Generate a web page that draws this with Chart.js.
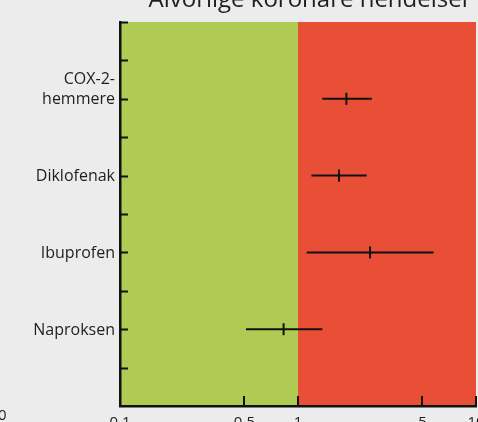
<!DOCTYPE html>
<html>
<head>
<meta charset="utf-8">
<script src="https://cdn.jsdelivr.net/npm/chart.js@4.4.1/dist/chart.umd.min.js"></script>
<style>
  html, body { margin: 0; padding: 0; background: #ececec; overflow: hidden; }
  #wrap { position: relative; width: 484px; height: 422px; }
</style>
</head>
<body>
<div id="wrap"><canvas id="chart"></canvas></div>
<script>
// Data
const titleText = 'Alvorlige koronare hendelser';
const categories = [['COX-2-', 'hemmere'], 'Diklofenak', 'Ibuprofen', 'Naproksen'];
const estimates = [1.87, 1.70, 2.54, 0.83];
const lowerCI = [1.37, 1.19, 1.12, 0.51];
const upperCI = [2.60, 2.43, 5.78, 1.37];
const xTicks = [0.1, 0.5, 1, 5, 10];
const threshold = 1;

const FONT = '"Open Sans", "DejaVu Sans", sans-serif';
const INK = '#111';

// CI lines, one dataset per row
const ciSets = categories.map((c, i) => ({
  type: 'line',
  data: [{ x: lowerCI[i], y: i + 1 }, { x: upperCI[i], y: i + 1 }],
  borderColor: INK,
  borderWidth: 2,
  pointRadius: 0
}));

const pointSet = {
  type: 'scatter',
  data: estimates.map((v, i) => ({ x: v, y: i + 1 })),
  pointStyle: 'line',
  rotation: 90,
  radius: 6,
  borderColor: INK,
  borderWidth: 2
};

// green / red zones behind everything
const zones = {
  id: 'zones',
  beforeDraw(chart) {
    const { ctx, chartArea: a, scales: { x } } = chart;
    const mid = x.getPixelForValue(threshold);
    ctx.save();
    ctx.fillStyle = '#b0cb53';
    ctx.fillRect(a.left, a.top, mid - a.left, a.bottom - a.top);
    ctx.fillStyle = '#e94f36';
    ctx.fillRect(mid, a.top, a.right - mid, a.bottom - a.top);
    ctx.restore();
  }
};

// inward tick marks, row labels and title
const decor = {
  id: 'decor',
  afterDraw(chart) {
    const { ctx, chartArea: a, scales: { x, y } } = chart;
    ctx.save();
    ctx.strokeStyle = INK;
    ctx.lineWidth = 2;
    for (let v = 0; v < 5; v += 0.5) {
      const py = Math.round(y.getPixelForValue(v)) + 0.5;
      ctx.beginPath();
      ctx.moveTo(a.left, py);
      ctx.lineTo(a.left + 8, py);
      ctx.stroke();
    }
    xTicks.forEach(v => {
      const px = Math.round(x.getPixelForValue(v));
      ctx.beginPath();
      ctx.moveTo(px, a.bottom);
      ctx.lineTo(px, a.bottom - 10);
      ctx.stroke();
    });

    ctx.fillStyle = '#1e1e1e';
    ctx.font = '16px ' + FONT;
    ctx.textAlign = 'right';
    ctx.textBaseline = 'middle';
    categories.forEach((c, i) => {
      const lines = Array.isArray(c) ? c : [c];
      const py = y.getPixelForValue(i + 1);
      lines.forEach((t, k) => {
        ctx.fillText(t, a.left - 5, py - (lines.length - 1 - k) * 20 + 1);
      });
    });

    ctx.font = '24px ' + FONT;
    ctx.textAlign = 'center';
    ctx.textBaseline = 'alphabetic';
    ctx.fillText(titleText, 310, 7);

    // fragment of the neighbouring chart at the left edge
    ctx.font = '15px ' + FONT;
    ctx.textAlign = 'left';
    ctx.fillText('0', -2, 420);
    ctx.restore();
  }
};

new Chart(document.getElementById('chart'), {
  data: { datasets: [...ciSets, pointSet] },
  options: {
    responsive: true,
    maintainAspectRatio: false,
    animation: false,
    layout: { padding: { top: 22, right: 2, left: 0, bottom: 0 } },
    plugins: { legend: { display: false }, tooltip: { enabled: false } },
    scales: {
      x: {
        type: 'logarithmic',
        min: 0.1,
        max: 10,
        afterBuildTicks(scale) { scale.ticks = xTicks.map(v => ({ value: v })); },
        afterFit(scale) {
          scale.height = 16;
          scale.paddingLeft = 0;
          scale.paddingRight = 0;
        },
        grid: { display: false, drawTicks: false },
        border: { display: true, color: INK, width: 2.5 },
        ticks: {
          padding: 8,
          color: '#1e1e1e',
          font: { family: FONT, size: 15 },
          maxRotation: 0,
          autoSkip: false,
          callback: v => String(v)
        }
      },
      y: {
        type: 'linear',
        min: 0,
        max: 5,
        reverse: true,
        afterFit(scale) { scale.width = 120; },
        grid: { display: false, drawTicks: false },
        border: { display: true, color: INK, width: 2.5 },
        ticks: { display: false, stepSize: 0.5 }
      }
    }
  },
  plugins: [zones, decor]
});
</script>
</body>
</html>
